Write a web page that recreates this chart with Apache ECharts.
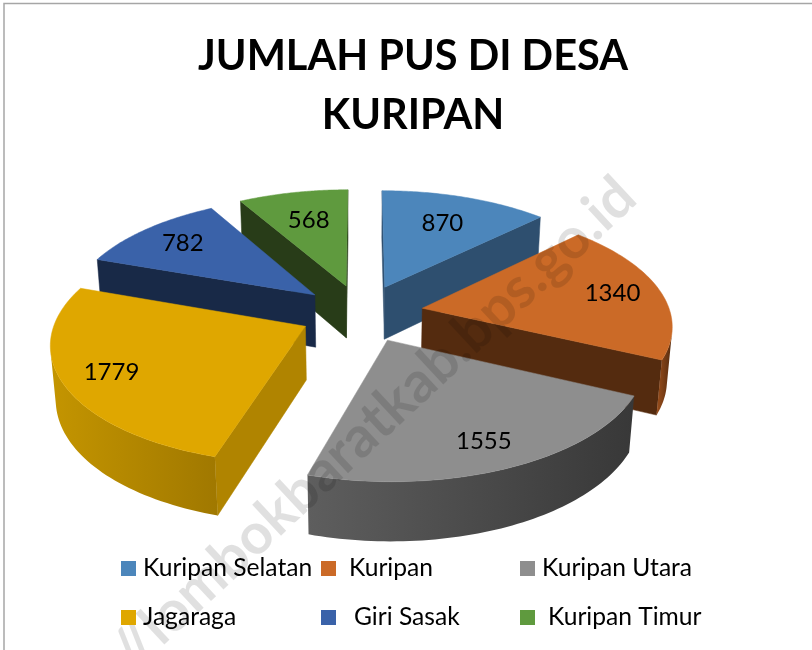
<!DOCTYPE html>
<html><head><meta charset="utf-8">
<style>html,body{margin:0;padding:0;background:#fff}#c{width:812px;height:650px}</style>
<script src="https://cdn.jsdelivr.net/npm/echarts@6/dist/echarts.min.js"></script>
</head><body><div id="c"></div>
<script>
const categories = ['Kuripan Selatan','Kuripan','Kuripan Utara','Jagaraga','Giri Sasak','Kuripan Timur'];
const values = [870,1340,1555,1779,782,568];
const topColors = ['#4c86bb','#cb6a27','#8e8e8e','#dfa700','#3a62a9','#5f9a3e'];
const wallColors = ['#2e4f6f','#542b0f','#3c3c3c','#b08400','#182947','#283c18'];
const rimColors = [['#35597c','#2e4f6f'],['#9c4f1c','#542b0f'],['#5e5e5e','#383838'],['#c49500','#a07800'],['#1f3563','#182947'],['#3a5c25','#283c18']];
const labelRadius = [0.69,0.80,0.81,0.81,0.77,0.68];
const legendLeft = [121,321,520,121,321,520];
const legendTop = [556,556,556,605,605,605];
const legendTextGap = [2,8,2,2,13,8];

const CX=361.5, CY=313, R=248, EXPLODE=62, KY=0.465, DEPTH=1900, H=54, LEAN=0.6;
const total = values.reduce((a,b)=>a+b,0);
const rad = d=>d*Math.PI/180;
function project(X,Z,h){
  const s = DEPTH/(DEPTH+Z+h*LEAN);
  return [CX+X*s, CY-Z*KY*s+h*s];
}
function sliceRange(i){
  let c=0; for(let k=0;k<i;k++) c+=values[k];
  return [c/total*2*Math.PI,(c+values[i])/total*2*Math.PI];
}
function area(p){let a=0;for(let i=0;i<p.length;i++){const q=p[(i+1)%p.length];a+=p[i][0]*q[1]-q[0]*p[i][1];}return a;}
function poly(points,fill,z2){
  return {type:'polygon',z2:z2,shape:{points:points},style:{fill:fill,stroke:typeof fill==='string'?fill:null,lineWidth:typeof fill==='string'?0.5:0}};
}
function drawSlice(i){
  return function(){
    const [a0,a1]=sliceRange(i), mid=(a0+a1)/2;
    const ox=EXPLODE*Math.sin(mid), oz=EXPLODE*Math.cos(mid);
    const pt=(a,r,h)=>project(ox+r*Math.sin(a),oz+r*Math.cos(a),h);
    const N=64, rim=[];
    for(let k=0;k<=N;k++) rim.push(a0+(a1-a0)*k/N);
    const kids=[];
    const apexT=pt(0,0,0), apexB=pt(0,0,H);
    const w0=[apexT,pt(a0,R,0),pt(a0,R,H),apexB];
    const w1=[apexT,pt(a1,R,0),pt(a1,R,H),apexB];
    if(area(w0)<0) kids.push(poly(w0,wallColors[i],1));
    if(area(w1)>0) kids.push(poly(w1,wallColors[i],1));
    let vis=[];
    for(let k=0;k<N;k++){
      const q=[pt(rim[k],R,0),pt(rim[k+1],R,0),pt(rim[k+1],R,H),pt(rim[k],R,H)];
      if(area(q)<0){ if(!vis.length) vis.push(rim[k]); vis.push(rim[k+1]); }
    }
    if(vis.length){
      const top=vis.map(a=>pt(a,R,0)), bot=vis.map(a=>pt(a,R,H)).reverse();
      kids.push({type:'polygon',z2:2,shape:{points:top.concat(bot)},style:{fill:{type:'linear',x:0,y:0,x2:1,y2:0,colorStops:[{offset:0,color:rimColors[i][0]},{offset:1,color:rimColors[i][1]}]}}});
    }
    const topFace=[apexT].concat(rim.map(a=>pt(a,R,0)));
    kids.push(poly(topFace,topColors[i],3));
    const lp=pt(mid,R*labelRadius[i],0);
    kids.push({type:'text',z2:4,x:lp[0],y:lp[1],style:{text:String(values[i]),fill:'#000',font:'24px Lato',align:'center',verticalAlign:'middle'}});
    return {type:'group',children:kids};
  };
}
const series = categories.map((name,i)=>{
  const [a0,a1]=sliceRange(i);
  return {type:'custom',name:name,coordinateSystem:'none',data:[values[i]],
    z:10-Math.cos((a0+a1)/2)*5,silent:true,animation:false,
    itemStyle:{color:topColors[i]},renderItem:drawSlice(i)};
});
const legends = categories.map((name,i)=>({
  data:[name],left:legendLeft[i],top:legendTop[i],icon:'rect',itemWidth:15,itemHeight:15,padding:0,selectedMode:false,z:200,
  textStyle:{fontFamily:'Lato',fontSize:24.6,color:'#000',padding:[0,0,0,legendTextGap[i]]}
}));
const chart=echarts.init(document.getElementById('c'),null,{renderer:'canvas'});
chart.setOption({
  backgroundColor:'#fff',animation:false,
  title:{text:'JUMLAH PUS DI DESA\nKURIPAN',left:408,top:22,textAlign:'center',
    textStyle:{fontFamily:'Lato',fontWeight:'bold',fontSize:41.5,lineHeight:59,color:'#000'}},
  legend:legends,
  graphic:[
    {type:'polyline',z:1,shape:{points:[[4,650],[4,3.5],[812,3.5]]},style:{fill:null,stroke:'#a6a6a6',lineWidth:1.5}},
    {type:'text',z:100,x:627,y:188,rotation:rad(43),silent:true,style:{text:'https://lombokbaratkab.bps.go.id',align:'right',verticalAlign:'middle',font:'bold 57px Lato',fill:'rgba(0,0,0,0.12)'}}
  ],
  series:series
});
</script></body></html>
